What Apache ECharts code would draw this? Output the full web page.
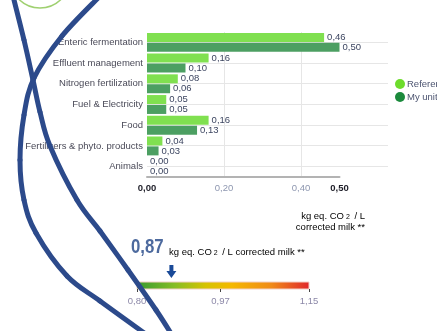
<!DOCTYPE html>
<html>
<head>
<meta charset="utf-8">
<script src="https://cdn.jsdelivr.net/npm/echarts@6/dist/echarts.min.js"></script>
<style>
  html, body { margin: 0; padding: 0; background: #ffffff; }
  #chart { width: 437px; height: 331px; }
</style>
</head>
<body>
<div id="chart"></div>
<script>
// Emission sources (top to bottom)
var categories = [
  'Enteric fermentation',
  'Effluent management',
  'Nitrogen fertilization',
  'Fuel & Electricity',
  'Food',
  'Fertilizers & phyto. products',
  'Animals'
];
// kg eq. CO2 / L corrected milk
var referenceValues = [0.46, 0.16, 0.08, 0.05, 0.16, 0.04, 0.00];
var myUnitValues    = [0.50, 0.10, 0.06, 0.05, 0.13, 0.03, 0.00];
var seriesNames = ['Reference', 'My unit'];

// Value axis labels
var valueAxisLabels = [0, 0.2, 0.4, 0.5];

// Overall footprint and its scale
var totalFootprint = 0.87;
var scaleLabels = [0.80, 0.97, 1.15];

function comma(v) { return v.toFixed(2).replace('.', ','); }

var FONT = 'Liberation Sans, Arial, sans-serif';
var navy = '#2c4a8b';

// Smooth stroke through a list of points, as Bezier segments (Catmull-Rom)
function smoothStroke(pts) {
  var segs = [];
  for (var i = 0; i < pts.length - 1; i++) {
    var p0 = pts[i - 1] || pts[i], p1 = pts[i], p2 = pts[i + 1], p3 = pts[i + 2] || p2;
    segs.push({
      type: 'bezierCurve',
      z: 100,
      silent: true,
      shape: {
        x1: p1[0], y1: p1[1], x2: p2[0], y2: p2[1],
        cpx1: p1[0] + (p2[0] - p0[0]) / 6, cpy1: p1[1] + (p2[1] - p0[1]) / 6,
        cpx2: p2[0] - (p3[0] - p1[0]) / 6, cpy2: p2[1] - (p3[1] - p1[1]) / 6
      },
      style: { fill: null, stroke: navy, lineWidth: 5, lineCap: 'round' }
    });
  }
  return segs;
}

// Decorative sweeping strokes
var strokeA = [[100, -4], [62, 36], [34, 78], [24, 115], [20, 160], [24, 200], [36, 233], [67, 276], [100, 301], [147, 335]];
var strokeB = [[13, -4], [24, 40], [33, 80], [40, 112], [50, 146], [77, 200], [100, 231], [128, 270], [156, 310], [172, 335]];

var chart = echarts.init(document.getElementById('chart'), null, { renderer: 'canvas' });

var option = {
  backgroundColor: '#ffffff',
  animation: false,
  textStyle: { fontFamily: FONT },
  legend: {
    orient: 'vertical',
    left: 390,
    top: 74,
    itemWidth: 10,
    itemHeight: 10,
    itemGap: 3,
    icon: 'circle',
    textStyle: { fontSize: 9.5, color: '#4c5470', fontFamily: FONT, padding: [0, 0, 0, -3] },
    data: [
      { name: seriesNames[0], itemStyle: { color: '#6ddc2c' } },
      { name: seriesNames[1], itemStyle: { color: '#1b8a3c' } }
    ]
  },
  grid: [
    { left: 147, right: 97.5, top: 32, height: 145 },
    { left: 147, right: 49, top: 42.4, height: 124 },
    {
      left: 137, right: 128, top: 282, height: 7,
      show: true,
      borderColor: '#f3cfc4',
      borderWidth: 1,
      backgroundColor: new echarts.graphic.LinearGradient(0, 0, 1, 0, [
        { offset: 0, color: '#379a30' },
        { offset: 0.22, color: '#86bd25' },
        { offset: 0.4, color: '#d6c300' },
        { offset: 0.55, color: '#f5b800' },
        { offset: 0.78, color: '#f08a18' },
        { offset: 1, color: '#e0262a' }
      ])
    }
  ],
  xAxis: [
    {
      gridIndex: 0,
      type: 'value',
      min: 0,
      max: 0.5,
      interval: 0.2,
      axisLine: { show: true, lineStyle: { color: '#b3b3b3', width: 2 } },
      axisTick: { show: false },
      splitLine: { show: true, showMinLine: false, showMaxLine: false, lineStyle: { color: '#e6e6e6', width: 1 } },
      axisLabel: {
        customValues: valueAxisLabels,
        margin: 6,
        fontSize: 9.5,
        formatter: function (v) {
          var s = comma(v);
          return (v === 0 || v === 0.5) ? '{b|' + s + '}' : '{l|' + s + '}';
        },
        rich: {
          b: { fontSize: 9.5, fontWeight: 'bold', color: '#1e1e28', fontFamily: FONT },
          l: { fontSize: 9.5, color: '#8e97b0', fontFamily: FONT }
        }
      }
    },
    { gridIndex: 1, type: 'value', min: 0, max: 1, show: false },
    {
      gridIndex: 2,
      type: 'value',
      min: 0.8,
      max: 1.15,
      axisLine: { show: false },
      splitLine: { show: false },
      axisTick: { show: true, customValues: scaleLabels, length: 3, lineStyle: { color: '#444', width: 1 } },
      axisLabel: {
        customValues: scaleLabels,
        margin: 7,
        fontSize: 9.5,
        color: '#8c88a8',
        fontFamily: FONT,
        formatter: function (v) { return comma(v); }
      }
    }
  ],
  yAxis: [
    {
      gridIndex: 0,
      type: 'category',
      data: categories,
      inverse: true,
      axisLine: { show: false },
      axisTick: { show: false },
      axisLabel: { fontSize: 9.5, color: '#4a4a58', margin: 4, fontFamily: FONT }
    },
    {
      gridIndex: 1,
      type: 'value',
      min: 0,
      max: 6,
      interval: 1,
      inverse: true,
      axisLine: { show: false },
      axisTick: { show: false },
      axisLabel: { show: false },
      splitLine: { show: true, lineStyle: { color: '#e6e6e6', width: 1 } }
    },
    { gridIndex: 2, type: 'category', data: ['total'], show: false }
  ],
  series: [
    {
      name: seriesNames[0],
      type: 'bar',
      xAxisIndex: 0,
      yAxisIndex: 0,
      data: referenceValues,
      barWidth: 9,
      barGap: '10%',
      itemStyle: { color: '#80e050' },
      label: {
        show: true, position: 'right', distance: 3,
        fontSize: 9.5, color: '#3c4560', fontFamily: FONT,
        formatter: function (p) { return comma(p.value); }
      }
    },
    {
      name: seriesNames[1],
      type: 'bar',
      xAxisIndex: 0,
      yAxisIndex: 0,
      data: myUnitValues,
      barWidth: 9,
      barGap: '10%',
      itemStyle: { color: '#4c9f62' },
      label: {
        show: true, position: 'right', distance: 3,
        fontSize: 9.5, color: '#3c4560', fontFamily: FONT,
        formatter: function (p) { return comma(p.value); }
      }
    },
    {
      name: 'total',
      type: 'scatter',
      xAxisIndex: 2,
      yAxisIndex: 2,
      data: [[totalFootprint, 0]],
      symbol: 'path://M3,0 L7,0 L7,6 L10,6 L5,13 L0,6 L3,6 Z',
      symbolSize: [10, 13],
      symbolOffset: [0, -14],
      itemStyle: { color: '#1a4a98', opacity: 1 },
      silent: true
    }
  ],
  graphic: [
    {
      type: 'text',
      x: 131,
      y: 257,
      scaleX: 0.84,
      style: {
        text: comma(totalFootprint),
        fontSize: 20,
        fontWeight: 'bold',
        fill: '#4d6a9e',
        fontFamily: FONT,
        verticalAlign: 'bottom'
      }
    },
    {
      type: 'text',
      x: 169,
      y: 257,
      style: {
        text: '{u|kg eq. CO}{s|2}{u| / L corrected milk **}',
        verticalAlign: 'bottom',
        rich: {
          u: { fontSize: 9.5, color: '#7a6f8c', fontFamily: FONT, verticalAlign: 'bottom', lineHeight: 11 },
          s: { fontSize: 7, color: '#7a6f8c', fontFamily: FONT, verticalAlign: 'bottom', lineHeight: 7, padding: [0, 2, 0, 2] }
        }
      }
    },
    {
      type: 'text',
      x: 365,
      y: 210,
      style: {
        text: '{u|kg eq. CO}{s|2}{u| / L}\n{u|corrected milk **}',
        align: 'right',
        rich: {
          u: { fontSize: 9.5, color: '#666672', fontFamily: FONT, lineHeight: 11, verticalAlign: 'bottom' },
          s: { fontSize: 7, color: '#666672', fontFamily: FONT, lineHeight: 8, verticalAlign: 'bottom', padding: [0, 2, 0, 2] }
        }
      }
    },
    // decorative outline circle at the top
    {
      type: 'circle',
      z: 100,
      silent: true,
      shape: { cx: 40, cy: -22, r: 30 },
      style: { fill: null, stroke: '#9fd070', lineWidth: 1.5 }
    }
  ].concat(smoothStroke(strokeA), smoothStroke(strokeB))
};

chart.setOption(option);
</script>
</body>
</html>
